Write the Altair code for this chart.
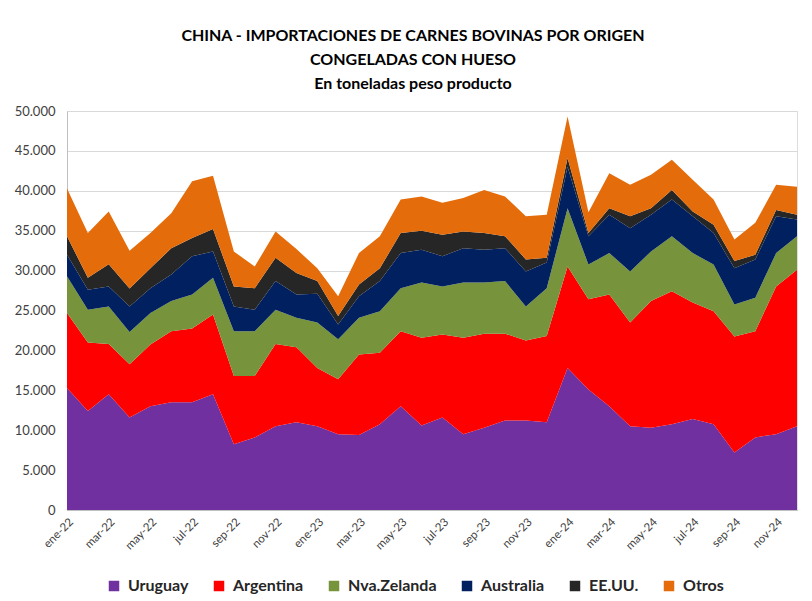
import altair as alt
import pandas as pd

meses = ["ene-22","feb-22","mar-22","abr-22","may-22","jun-22","jul-22","ago-22","sep-22","oct-22","nov-22","dic-22",
         "ene-23","feb-23","mar-23","abr-23","may-23","jun-23","jul-23","ago-23","sep-23","oct-23","nov-23","dic-23",
         "ene-24","feb-24","mar-24","abr-24","may-24","jun-24","jul-24","ago-24","sep-24","oct-24","nov-24","dic-24"]

uruguay = [15300,12400,14500,11600,13000,13500,13500,14500,8250,9100,10500,11000,
           10500,9500,9400,10750,13000,10600,11600,9500,10300,11200,11200,11000,
           17800,15100,13000,10500,10300,10750,11400,10750,7200,9100,9500,10500]
argentina = [9400,8600,6300,6650,7750,8900,9250,10000,8550,7700,10300,9400,
             7300,6900,10100,8950,9400,11000,10400,12100,11800,10900,10050,10800,
             12700,11300,14000,13000,15900,16650,14600,14150,14550,13300,18500,19600]
nva_zelanda = [4600,4100,4700,4050,3950,3800,4250,4600,5600,5600,4300,3700,
               5700,5000,4600,5200,5400,6900,6000,6900,6400,6600,4250,6000,
               7300,4350,5200,6400,6200,6900,6200,5850,4000,4200,4200,4200]
australia = [2700,2500,2500,3200,3100,3300,4800,3300,3100,2700,3600,2900,
             3600,1850,2700,3800,4400,4100,3800,4300,4100,4100,4400,3200,
             5200,3550,4800,5400,4600,4600,4600,3950,4550,4800,4600,2100]
ee_uu = [2300,1500,2800,2250,2500,3300,2300,2800,2500,2700,2900,2700,
         1600,1050,1450,1600,2500,2400,2700,2100,2100,1500,1500,600,
         1100,400,800,1500,800,1200,600,1050,900,600,800,600]
otros = [6000,5600,6600,4750,4400,4400,7100,6700,4400,2700,3300,3000,
         1600,2500,3950,4000,4200,4300,4000,4200,5400,5000,5400,5400,
         5200,2600,4400,3950,4200,3800,4000,3150,2700,4000,3150,3500]

series = ["Uruguay", "Argentina", "Nva.Zelanda", "Australia", "EE.UU.", "Otros"]
colores = ["#7030A0", "#FF0000", "#77933C", "#002060", "#262626", "#E46C0A"]
valores = [uruguay, argentina, nva_zelanda, australia, ee_uu, otros]

rows = []
for k, (nombre, vals) in enumerate(zip(series, valores)):
    for mes, v in zip(meses, vals):
        rows.append({"mes": mes, "origen": nombre, "toneladas": v, "orden": k})
df = pd.DataFrame(rows)

FONT = "Lato"

chart = alt.Chart(df).mark_area(opacity=1).encode(
    x=alt.X("mes:O", sort=meses, title=None,
            scale=alt.Scale(padding=0),
            axis=alt.Axis(values=meses[::2], labelAngle=315, labelFontSize=11.5,
                          labelColor="#404040", labelFont=FONT, ticks=False,
                          domainColor="#BFBFBF", labelPadding=6)),
    y=alt.Y("toneladas:Q", stack="zero", title=None,
            scale=alt.Scale(domain=[0, 50000]),
            axis=alt.Axis(values=list(range(0, 50001, 5000)),
                          labelExpr="replace(format(datum.value, ',d'), ',', '.')",
                          labelFontSize=13, labelColor="#404040", labelFont=FONT,
                          ticks=False, domainColor="#BFBFBF", gridColor="#D9D9D9",
                          labelPadding=12)),
    color=alt.Color("origen:N", sort=series,
                    scale=alt.Scale(domain=series, range=colores),
                    legend=alt.Legend(title=None, orient="none", direction="horizontal",
                                      legendX=39, legendY=467, symbolType="square",
                                      symbolSize=110, symbolStrokeWidth=0,
                                      labelFontSize=16, labelFont=FONT, labelColor="#262626",
                                      labelFontWeight="bold", labelOffset=6,
                                      columnPadding=22, symbolOpacity=1)),
    order=alt.Order("orden:Q", sort="ascending"),
).properties(
    width=730,
    height=399,
    autosize=alt.AutoSizeParams(type="none"),
    padding={"left": 59, "top": 103, "right": 7, "bottom": 90},
    title=alt.TitleParams(
        text=["CHINA - IMPORTACIONES DE CARNES BOVINAS POR ORIGEN",
              "CONGELADAS CON HUESO",
              "En toneladas peso producto"],
        font=FONT, fontSize=16, fontWeight="bold", color="#000000",
        anchor="middle", dx=-19, offset=13, lineHeight=24),
).configure_view(stroke=None).configure(background="white")

chart.save("out.html", embed_options={"renderer": "svg", "actions": False})
